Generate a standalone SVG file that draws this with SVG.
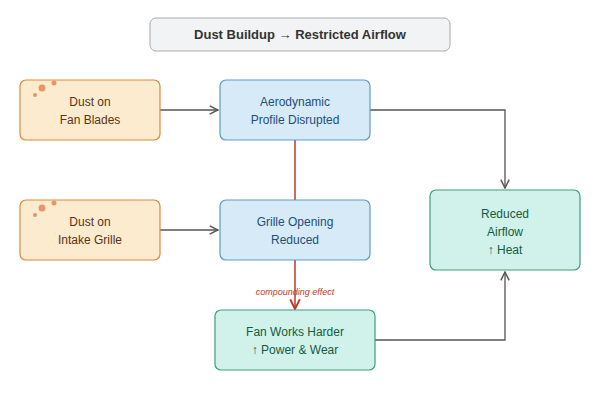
<svg xmlns="http://www.w3.org/2000/svg" width="600" height="400" viewBox="0 0 600 400">
<defs>
<style>
text{font-family:"Liberation Sans",Arial,sans-serif;font-size:12px;text-anchor:middle}
.o{fill:#fdebd0;stroke:#d98a3a;stroke-width:1.2}
.b{fill:#d6eaf8;stroke:#5d9cc7;stroke-width:1.2}
.g{fill:#d1f2eb;stroke:#3aa07a;stroke-width:1.2}
.to{fill:#5a3410}.tb{fill:#1f4e79}.tg{fill:#145a42}
.c{fill:none;stroke:#555;stroke-width:1.3}
.dot{fill:#e59866}
</style>
<marker id="a" viewBox="0 0 10 10" refX="9" refY="5" markerWidth="8" markerHeight="8" orient="auto"><path d="M1,1 L9,5 L1,9" fill="none" stroke="#555" stroke-width="1.4"/></marker>
<marker id="r" viewBox="0 0 10 10" refX="9" refY="5" markerWidth="8" markerHeight="8" orient="auto"><path d="M1,1 L9,5 L1,9" fill="none" stroke="#c0392b" stroke-width="1.6"/></marker>
</defs>
<rect width="600" height="400" fill="#fff"/>
<g id="title"><rect x="150" y="18" width="300" height="33" rx="6" fill="#f2f3f4" stroke="#aaa"/><text x="300" y="39" style="font-size:13px;font-weight:bold" fill="#333">Dust Buildup → Restricted Airflow</text></g>
<g id="connectors">
<path class="c" d="M160,110 H218" marker-end="url(#a)"/>
<path class="c" d="M160,230 H218" marker-end="url(#a)"/>
<path class="c" d="M370,110 H505 V188" marker-end="url(#a)"/>
<path class="c" d="M375,340 H505 V272" marker-end="url(#a)"/>
<path d="M295,140 V309" fill="none" stroke="#c0392b" stroke-width="1.5" marker-end="url(#r)"/>
<text x="295" y="295" style="font-size:9px;font-style:italic" fill="#c0392b">compounding effect</text>
</g>
<g id="n1"><rect class="o" x="20" y="80" width="140" height="60" rx="6"/><circle class="dot" cx="42" cy="88" r="3.5"/><circle class="dot" cx="54" cy="83" r="2.5"/><circle class="dot" cx="35" cy="95" r="2"/><text class="to" x="90" y="106">Dust on</text><text class="to" x="90" y="124">Fan Blades</text></g>
<g id="n2"><rect class="o" x="20" y="200" width="140" height="60" rx="6"/><circle class="dot" cx="42" cy="208" r="3.5"/><circle class="dot" cx="54" cy="203" r="2.5"/><circle class="dot" cx="35" cy="215" r="2"/><text class="to" x="90" y="226">Dust on</text><text class="to" x="90" y="244">Intake Grille</text></g>
<g id="n3"><rect class="b" x="220" y="80" width="150" height="60" rx="6"/><text class="tb" x="295" y="106">Aerodynamic</text><text class="tb" x="295" y="124">Profile Disrupted</text></g>
<g id="n4"><rect class="b" x="220" y="200" width="150" height="60" rx="6"/><text class="tb" x="295" y="226">Grille Opening</text><text class="tb" x="295" y="244">Reduced</text></g>
<g id="n5"><rect class="g" x="430" y="190" width="150" height="80" rx="6"/><text class="tg" x="505" y="218">Reduced</text><text class="tg" x="505" y="236">Airflow</text><text class="tg" x="505" y="254">↑ Heat</text></g>
<g id="n6"><rect class="g" x="215" y="310" width="160" height="60" rx="6"/><text class="tg" x="295" y="336">Fan Works Harder</text><text class="tg" x="295" y="354">↑ Power &amp; Wear</text></g>
</svg>
